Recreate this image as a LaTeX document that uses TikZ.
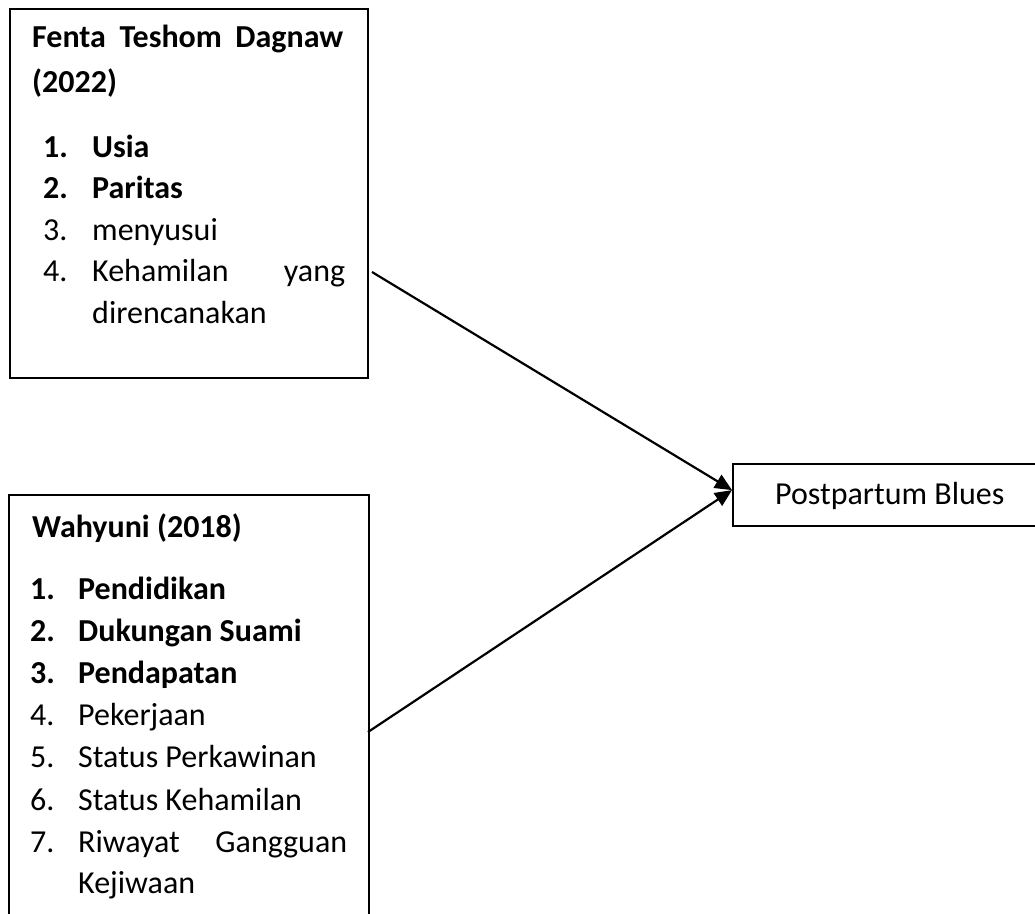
\documentclass[tikz,border=0pt]{standalone}
\usepackage{fontspec}
\setmainfont{Carlito}
\usetikzlibrary{arrows.meta}
\begin{document}
\begin{tikzpicture}[x=1pt,y=-1pt,
  box/.style={draw, line width=2.2pt, rectangle, inner sep=0pt, anchor=north west},
  txt/.style={inner sep=0pt, anchor=base west, font=\fontsize{32}{42}\selectfont},
  arr/.style={line width=2.2pt, -{Triangle[length=17pt,width=15pt]}}]
\clip (0,0) rectangle (1035,913);
\fill[white] (0,0) rectangle (1035,913);
% boxes
\node[box, minimum width=358pt, minimum height=369pt] (topbox) at (9,8) {};
\node[box, minimum width=360pt, minimum height=520pt] (botbox) at (8,494) {};
\node[box, minimum width=400pt, minimum height=62pt] (pp) at (732,463) {};
% top box text
\node[txt] (t0) at (32,47) {\bfseries\hbox to 311pt{Fenta\hfill Teshom\hfill Dagnaw}};
\node[txt] (t0b) at (32,92) {\bfseries (2022)};
\node[txt] (n1) at (43,157) {\bfseries 1.};
\node[txt] (i1) at (92,157) {\bfseries Usia};
\node[txt] (n2) at (43,198.5) {\bfseries 2.};
\node[txt] (i2) at (92,198.5) {\bfseries Paritas};
\node[txt] (n3) at (43,240) {3.};
\node[txt] (i3) at (92,240) {menyusui};
\node[txt] (n4) at (43,281.5) {4.};
\node[txt] (i4) at (92,281.5) {\hbox to 253pt{Kehamilan\hfill yang}};
\node[txt] (i4b) at (92,323) {direncanakan};
% bottom box text
\node[txt] (w0) at (32,537) {\bfseries Wahyuni (2018)};
\node[txt] (m1) at (30,599) {\bfseries 1.};
\node[txt] (j1) at (78,599) {\bfseries Pendidikan};
\node[txt] (m2) at (30,641) {\bfseries 2.};
\node[txt] (j2) at (78,641) {\bfseries Dukungan Suami};
\node[txt] (m3) at (30,683) {\bfseries 3.};
\node[txt] (j3) at (78,683) {\bfseries Pendapatan};
\node[txt] (m4) at (30,725) {4.};
\node[txt] (j4) at (78,725) {Pekerjaan};
\node[txt] (m5) at (30,767.5) {5.};
\node[txt] (j5) at (78,767.5) {Status Perkawinan};
\node[txt] (m6) at (30,810) {6.};
\node[txt] (j6) at (78,810) {Status Kehamilan};
\node[txt] (m7) at (30,852) {7.};
\node[txt] (j7) at (78,852) {\hbox to 269pt{Riwayat\hfill Gangguan}};
\node[txt] (j7b) at (78,893) {Kejiwaan};
% right box text
\node[txt] (ppt) at (775,504) {Postpartum Blues};
% connectors
\coordinate (s1) at (372,272);
\coordinate (s2) at (368,732);
\draw[arr] (s1) -- ([yshift=5pt]pp.west);
\draw[arr] (s2) -- ([yshift=5pt]pp.west);
\end{tikzpicture}
\end{document}
